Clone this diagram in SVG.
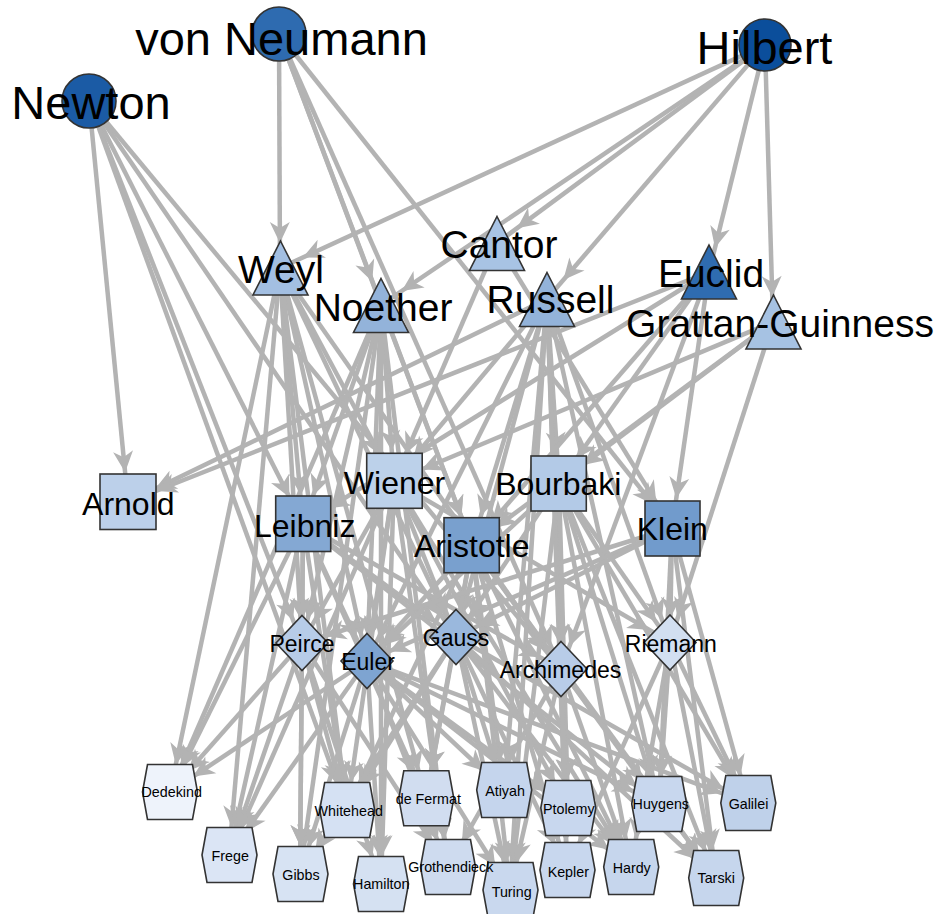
<svg xmlns="http://www.w3.org/2000/svg" xmlns:xlink="http://www.w3.org/1999/xlink" width="943" height="914" viewBox="0 0 943 914">
<style>
.e line{stroke:#b3b3b3;stroke-width:4.5;fill:none}
.th{marker-end:url(#mh)}
.td{marker-end:url(#md)}
.ts{marker-end:url(#ms)}
.tt{marker-end:url(#mt)}
.n{stroke:#333;stroke-width:1.6}
text{font-family:"Liberation Sans",Arial,sans-serif;fill:#000;text-anchor:middle}
.f1{font-size:47px}
.f2{font-size:39px}
.f3{font-size:32px}
.f4{font-size:23px}
.f5{font-size:14.3px}
</style>
<defs>
<marker id="mh" markerUnits="userSpaceOnUse" orient="auto" refX="28" refY="0" markerWidth="1" markerHeight="1" overflow="visible"><path d="M0,0 L-21,-10 L-15,0 L-21,10 Z" fill="#b3b3b3"/></marker>
<marker id="md" markerUnits="userSpaceOnUse" orient="auto" refX="24" refY="0" markerWidth="1" markerHeight="1" overflow="visible"><path d="M0,0 L-21,-10 L-15,0 L-21,10 Z" fill="#b3b3b3"/></marker>
<marker id="ms" markerUnits="userSpaceOnUse" orient="auto" refX="30" refY="0" markerWidth="1" markerHeight="1" overflow="visible"><path d="M0,0 L-21,-10 L-15,0 L-21,10 Z" fill="#b3b3b3"/></marker>
<marker id="mt" markerUnits="userSpaceOnUse" orient="auto" refX="25" refY="0" markerWidth="1" markerHeight="1" overflow="visible"><path d="M0,0 L-21,-10 L-15,0 L-21,10 Z" fill="#b3b3b3"/></marker>
<path id="hex" d="M-27.5,0 L-22.5,-27.5 L22.5,-27.5 L27.5,0 L22.5,27.5 L-22.5,27.5 Z"/>
<path id="dia" d="M0,-27.5 L26,0 L0,27.5 L-26,0 Z"/>
<path id="tri" d="M0,-27 L27.5,27 L-27.5,27 Z"/>
</defs>
<rect width="943" height="914" fill="#fff"/>
<g id="edges" class="e">
<!-- Newton -->
<line class="ts" x1="89" y1="101" x2="128" y2="502"/>
<line class="ts" x1="89" y1="101" x2="303" y2="524"/>
<line class="td" x1="89" y1="101" x2="302" y2="643"/>
<line class="td" x1="89" y1="101" x2="456" y2="637"/>
<line class="td" x1="89" y1="101" x2="561" y2="669"/>
<line class="th" x1="89" y1="101" x2="347" y2="810"/>
<!-- von Neumann -->
<line class="tt" x1="279" y1="34" x2="280" y2="268"/>
<line class="tt" x1="279" y1="34" x2="381" y2="305"/>
<line class="ts" x1="279" y1="34" x2="472" y2="545"/>
<line class="td" x1="279" y1="34" x2="561" y2="669"/>
<line class="ts" x1="279" y1="34" x2="672" y2="528"/>
<!-- Hilbert -->
<line class="tt" x1="765" y1="45" x2="280" y2="268"/>
<line class="tt" x1="765" y1="45" x2="381" y2="305"/>
<line class="tt" x1="765" y1="45" x2="497" y2="243"/>
<line class="tt" x1="765" y1="45" x2="547" y2="299"/>
<line class="tt" x1="765" y1="45" x2="709" y2="272"/>
<line class="tt" x1="765" y1="45" x2="773" y2="322"/>
<!-- Weyl -->
<line class="th" x1="280" y1="268" x2="170" y2="792"/>
<line class="th" x1="280" y1="268" x2="229" y2="855"/>
<line class="ts" x1="280" y1="268" x2="303" y2="524"/>
<line class="ts" x1="280" y1="268" x2="394" y2="481"/>
<line class="td" x1="280" y1="268" x2="302" y2="643"/>
<line class="td" x1="280" y1="268" x2="367" y2="661"/>
<line class="td" x1="280" y1="268" x2="456" y2="637"/>
<line class="td" x1="280" y1="268" x2="561" y2="669"/>
<line class="th" x1="280" y1="268" x2="347" y2="810"/>
<line class="th" x1="280" y1="268" x2="426" y2="798"/>
<!-- Noether -->
<line class="ts" x1="381" y1="305" x2="303" y2="524"/>
<line class="ts" x1="381" y1="305" x2="394" y2="481"/>
<line class="ts" x1="381" y1="305" x2="472" y2="545"/>
<line class="td" x1="381" y1="305" x2="302" y2="643"/>
<line class="td" x1="381" y1="305" x2="367" y2="661"/>
<line class="th" x1="381" y1="305" x2="300" y2="874"/>
<line class="th" x1="381" y1="305" x2="381" y2="884"/>
<line class="th" x1="381" y1="305" x2="170" y2="792"/>
<line class="th" x1="381" y1="305" x2="448" y2="867"/>
<!-- Cantor -->
<line class="ts" x1="497" y1="243" x2="394" y2="481"/>
<line class="ts" x1="497" y1="243" x2="672" y2="528"/>
<!-- Russell -->
<line class="ts" x1="547" y1="299" x2="128" y2="502"/>
<line class="ts" x1="547" y1="299" x2="394" y2="481"/>
<line class="ts" x1="547" y1="299" x2="472" y2="545"/>
<line class="ts" x1="547" y1="299" x2="559" y2="483"/>
<line class="td" x1="547" y1="299" x2="456" y2="637"/>
<line class="td" x1="547" y1="299" x2="561" y2="669"/>
<line class="td" x1="547" y1="299" x2="670" y2="642"/>
<line class="td" x1="547" y1="299" x2="367" y2="661"/>
<line class="th" x1="547" y1="299" x2="504" y2="790"/>
<line class="th" x1="547" y1="299" x2="568" y2="808"/>
<line class="th" x1="547" y1="299" x2="567" y2="870"/>
<line class="th" x1="547" y1="299" x2="510" y2="890"/>
<line class="th" x1="547" y1="299" x2="659" y2="804"/>
<!-- Euclid -->
<line class="ts" x1="709" y1="272" x2="128" y2="502"/>
<line class="ts" x1="709" y1="272" x2="303" y2="524"/>
<line class="ts" x1="709" y1="272" x2="472" y2="545"/>
<line class="ts" x1="709" y1="272" x2="559" y2="483"/>
<line class="ts" x1="709" y1="272" x2="672" y2="528"/>
<line class="td" x1="709" y1="272" x2="561" y2="669"/>
<!-- Grattan-Guinness -->
<line class="ts" x1="773" y1="322" x2="394" y2="481"/>
<line class="ts" x1="773" y1="322" x2="559" y2="483"/>
<line class="ts" x1="773" y1="322" x2="472" y2="545"/>
<line class="td" x1="773" y1="322" x2="670" y2="642"/>
<!-- Leibniz -->
<line class="th" x1="303" y1="524" x2="170" y2="792"/>
<line class="th" x1="303" y1="524" x2="229" y2="855"/>
<line class="th" x1="303" y1="524" x2="300" y2="874"/>
<line class="th" x1="303" y1="524" x2="347" y2="810"/>
<line class="td" x1="303" y1="524" x2="302" y2="643"/>
<line class="td" x1="303" y1="524" x2="367" y2="661"/>
<line class="td" x1="303" y1="524" x2="456" y2="637"/>
<line class="td" x1="303" y1="524" x2="561" y2="669"/>
<line class="th" x1="303" y1="524" x2="426" y2="798"/>
<line class="th" x1="303" y1="524" x2="659" y2="804"/>
<!-- Wiener -->
<line class="td" x1="394" y1="481" x2="302" y2="643"/>
<line class="td" x1="394" y1="481" x2="367" y2="661"/>
<line class="td" x1="394" y1="481" x2="456" y2="637"/>
<line class="td" x1="394" y1="481" x2="670" y2="642"/>
<line class="th" x1="394" y1="481" x2="347" y2="810"/>
<line class="th" x1="394" y1="481" x2="381" y2="884"/>
<line class="th" x1="394" y1="481" x2="448" y2="867"/>
<line class="th" x1="394" y1="481" x2="568" y2="808"/>
<line class="th" x1="394" y1="481" x2="631" y2="867"/>
<line class="th" x1="394" y1="481" x2="229" y2="855"/>
<!-- Aristotle -->
<line class="td" x1="472" y1="545" x2="456" y2="637"/>
<line class="td" x1="472" y1="545" x2="561" y2="669"/>
<line class="td" x1="472" y1="545" x2="367" y2="661"/>
<line class="th" x1="472" y1="545" x2="426" y2="798"/>
<line class="th" x1="472" y1="545" x2="504" y2="790"/>
<line class="th" x1="472" y1="545" x2="510" y2="890"/>
<line class="th" x1="472" y1="545" x2="567" y2="870"/>
<line class="th" x1="472" y1="545" x2="631" y2="867"/>
<line class="th" x1="472" y1="545" x2="716" y2="878"/>
<line class="th" x1="472" y1="545" x2="347" y2="810"/>
<!-- Bourbaki -->
<line class="td" x1="559" y1="483" x2="456" y2="637"/>
<line class="td" x1="559" y1="483" x2="561" y2="669"/>
<line class="td" x1="559" y1="483" x2="670" y2="642"/>
<line class="td" x1="559" y1="483" x2="367" y2="661"/>
<line class="th" x1="559" y1="483" x2="568" y2="808"/>
<line class="th" x1="559" y1="483" x2="659" y2="804"/>
<line class="th" x1="559" y1="483" x2="631" y2="867"/>
<line class="th" x1="559" y1="483" x2="748" y2="803"/>
<line class="th" x1="559" y1="483" x2="716" y2="878"/>
<line class="th" x1="559" y1="483" x2="510" y2="890"/>
<!-- Klein -->
<line class="td" x1="672" y1="528" x2="302" y2="643"/>
<line class="td" x1="672" y1="528" x2="367" y2="661"/>
<line class="td" x1="672" y1="528" x2="670" y2="642"/>
<line class="td" x1="672" y1="528" x2="456" y2="637"/>
<line class="th" x1="672" y1="528" x2="748" y2="803"/>
<line class="th" x1="672" y1="528" x2="716" y2="878"/>
<line class="th" x1="672" y1="528" x2="659" y2="804"/>
<!-- Peirce -->
<line class="th" x1="302" y1="643" x2="170" y2="792"/>
<line class="th" x1="302" y1="643" x2="229" y2="855"/>
<line class="th" x1="302" y1="643" x2="300" y2="874"/>
<line class="th" x1="302" y1="643" x2="347" y2="810"/>
<line class="th" x1="302" y1="643" x2="381" y2="884"/>
<line class="th" x1="302" y1="643" x2="448" y2="867"/>
<!-- Euler -->
<line class="th" x1="367" y1="661" x2="170" y2="792"/>
<line class="th" x1="367" y1="661" x2="229" y2="855"/>
<line class="th" x1="367" y1="661" x2="300" y2="874"/>
<line class="th" x1="367" y1="661" x2="381" y2="884"/>
<line class="th" x1="367" y1="661" x2="448" y2="867"/>
<line class="th" x1="367" y1="661" x2="504" y2="790"/>
<line class="th" x1="367" y1="661" x2="510" y2="890"/>
<line class="th" x1="367" y1="661" x2="568" y2="808"/>
<line class="th" x1="367" y1="661" x2="659" y2="804"/>
<line class="th" x1="367" y1="661" x2="631" y2="867"/>
<line class="th" x1="367" y1="661" x2="748" y2="803"/>
<!-- Gauss -->
<line class="th" x1="456" y1="637" x2="347" y2="810"/>
<line class="th" x1="456" y1="637" x2="426" y2="798"/>
<line class="th" x1="456" y1="637" x2="504" y2="790"/>
<line class="th" x1="456" y1="637" x2="510" y2="890"/>
<line class="th" x1="456" y1="637" x2="567" y2="870"/>
<line class="th" x1="456" y1="637" x2="631" y2="867"/>
<line class="th" x1="456" y1="637" x2="716" y2="878"/>
<line class="th" x1="456" y1="637" x2="300" y2="874"/>
<line class="th" x1="456" y1="637" x2="748" y2="803"/>
<!-- Archimedes -->
<line class="th" x1="561" y1="669" x2="510" y2="890"/>
<line class="th" x1="561" y1="669" x2="568" y2="808"/>
<line class="th" x1="561" y1="669" x2="567" y2="870"/>
<line class="th" x1="561" y1="669" x2="631" y2="867"/>
<line class="th" x1="561" y1="669" x2="716" y2="878"/>
<line class="th" x1="561" y1="669" x2="448" y2="867"/>
<line class="th" x1="561" y1="669" x2="659" y2="804"/>
<!-- Riemann -->
<line class="th" x1="670" y1="642" x2="748" y2="803"/>
<line class="th" x1="670" y1="642" x2="716" y2="878"/>
<line class="th" x1="670" y1="642" x2="631" y2="867"/>
<line class="th" x1="670" y1="642" x2="659" y2="804"/>
<line class="th" x1="670" y1="642" x2="567" y2="870"/>
</g>
<g id="node-newton"><circle class="n" cx="89" cy="101" r="27" fill="#1b5ba5"/><text class="f1" x="91" y="119">Newton</text></g>
<g id="node-vonneumann"><circle class="n" cx="279" cy="34" r="27" fill="#2e6bb0"/><text class="f1" x="281.5" y="55">von Neumann</text></g>
<g id="node-hilbert"><circle class="n" cx="765" cy="45" r="26" fill="#0b4e9b"/><text class="f1" x="764.5" y="64">Hilbert</text></g>
<g id="node-weyl"><use class="n" xlink:href="#tri" transform="translate(280.5,268)" fill="#a3bfe2"/><text class="f2" x="281" y="283">Weyl</text></g>
<g id="node-noether"><use class="n" xlink:href="#tri" transform="translate(381,305.5)" fill="#93b3da"/><text class="f2" x="383" y="321">Noether</text></g>
<g id="node-cantor"><use class="n" xlink:href="#tri" transform="translate(497,243.5)" fill="#a8c3e4"/><text class="f2" x="499" y="258">Cantor</text></g>
<g id="node-russell"><use class="n" xlink:href="#tri" transform="translate(547,299.5)" fill="#93b3da"/><text class="f2" x="550.5" y="313">Russell</text></g>
<g id="node-euclid"><use class="n" xlink:href="#tri" transform="translate(709,272)" fill="#2f6cb0"/><text class="f2" x="711" y="287">Euclid</text></g>
<g id="node-grattan-guinness"><use class="n" xlink:href="#tri" transform="translate(773.5,322)" fill="#a6c2e3"/><text class="f2" x="780" y="337">Grattan-Guinness</text></g>
<g id="node-arnold"><rect class="n" x="100" y="474" width="56" height="55.5" fill="#bcd0ea"/><text class="f3" x="128.3" y="515">Arnold</text></g>
<g id="node-leibniz"><rect class="n" x="275.7" y="496" width="55" height="55.5" fill="#84a8d3"/><text class="f3" x="304.7" y="537">Leibniz</text></g>
<g id="node-wiener"><rect class="n" x="366.7" y="453.3" width="55.5" height="55" fill="#bcd1ea"/><text class="f3" x="394.5" y="494">Wiener</text></g>
<g id="node-aristotle"><rect class="n" x="444" y="517.7" width="55.3" height="55" fill="#79a0ce"/><text class="f3" x="471.7" y="557">Aristotle</text></g>
<g id="node-bourbaki"><rect class="n" x="531" y="456" width="55.3" height="55" fill="#b3cae7"/><text class="f3" x="558.3" y="495">Bourbaki</text></g>
<g id="node-klein"><rect class="n" x="645" y="501" width="55" height="55" fill="#719bcc"/><text class="f3" x="672.3" y="540">Klein</text></g>
<g id="node-peirce"><use class="n" xlink:href="#dia" transform="translate(302,643)" fill="#b7cce8"/><text class="f4" x="302" y="652">Peirce</text></g>
<g id="node-euler"><use class="n" xlink:href="#dia" transform="translate(367,661)" fill="#7ea4d1"/><text class="f4" x="368" y="670">Euler</text></g>
<g id="node-gauss"><use class="n" xlink:href="#dia" transform="translate(456,637)" fill="#9ab8dd"/><text class="f4" x="456" y="646">Gauss</text></g>
<g id="node-archimedes"><use class="n" xlink:href="#dia" transform="translate(561,669)" fill="#b8cce8"/><text class="f4" x="560.5" y="678">Archimedes</text></g>
<g id="node-riemann"><use class="n" xlink:href="#dia" transform="translate(670,642.5)" fill="#d2dff1"/><text class="f4" x="670.8" y="652">Riemann</text></g>
<g id="node-dedekind"><use class="n" xlink:href="#hex" transform="translate(170,792)" fill="#eef3fb"/><text class="f5" x="171.7" y="797">Dedekind</text></g>
<g id="node-frege"><use class="n" xlink:href="#hex" transform="translate(229.5,855)" fill="#dbe5f5"/><text class="f5" x="230.3" y="861">Frege</text></g>
<g id="node-gibbs"><use class="n" xlink:href="#hex" transform="translate(300.5,874)" fill="#d7e3f3"/><text class="f5" x="301" y="880">Gibbs</text></g>
<g id="node-whitehead"><use class="n" xlink:href="#hex" transform="translate(347.2,810)" fill="#d5e1f3"/><text class="f5" x="348.7" y="816">Whitehead</text></g>
<g id="node-hamilton"><use class="n" xlink:href="#hex" transform="translate(381,884)" fill="#d5e1f2"/><text class="f5" x="381.3" y="889">Hamilton</text></g>
<g id="node-defermat"><use class="n" xlink:href="#hex" transform="translate(426.3,798.3)" fill="#d1ddf0"/><text class="f5" x="428.3" y="804">de Fermat</text></g>
<g id="node-turing"><use class="n" xlink:href="#hex" transform="translate(510.5,890)" fill="#c9d8ee"/><text class="f5" x="511.7" y="897">Turing</text></g>
<g id="node-grothendieck"><use class="n" xlink:href="#hex" transform="translate(448,867)" fill="#cedbef"/><text class="f5" x="450.8" y="872">Grothendieck</text></g>
<g id="node-atiyah"><use class="n" xlink:href="#hex" transform="translate(504.2,790)" fill="#c5d5ed"/><text class="f5" x="505" y="796">Atiyah</text></g>
<g id="node-ptolemy"><use class="n" xlink:href="#hex" transform="translate(568.3,808)" fill="#c8d7ee"/><text class="f5" x="568.8" y="814">Ptolemy</text></g>
<g id="node-kepler"><use class="n" xlink:href="#hex" transform="translate(567.5,870)" fill="#c8d7ee"/><text class="f5" x="568.3" y="877">Kepler</text></g>
<g id="node-huygens"><use class="n" xlink:href="#hex" transform="translate(659.2,804)" fill="#c8d7ee"/><text class="f5" x="660.8" y="809">Huygens</text></g>
<g id="node-hardy"><use class="n" xlink:href="#hex" transform="translate(631.2,867)" fill="#c6d6ed"/><text class="f5" x="631.7" y="873">Hardy</text></g>
<g id="node-galilei"><use class="n" xlink:href="#hex" transform="translate(748.3,803)" fill="#bfd1ea"/><text class="f5" x="748.5" y="809">Galilei</text></g>
<g id="node-tarski"><use class="n" xlink:href="#hex" transform="translate(716.2,878)" fill="#c6d6ed"/><text class="f5" x="716.2" y="883">Tarski</text></g>
</svg>
